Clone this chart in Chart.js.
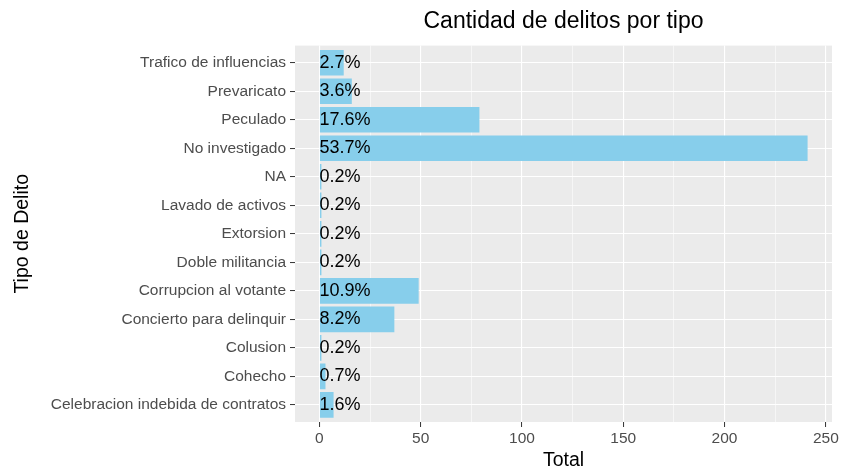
<!DOCTYPE html>
<html>
<head>
<meta charset="utf-8">
<title>Cantidad de delitos por tipo</title>
<script src="https://cdn.jsdelivr.net/npm/chart.js@4"></script>
<style>
  html, body { margin: 0; padding: 0; background: #fff; }
</style>
</head>
<body>
<canvas id="delitosChart" width="844" height="469"></canvas>
<script>
// categorias en el orden de arriba hacia abajo
const categorias = [
    'Trafico de influencias',
    'Prevaricato',
    'Peculado',
    'No investigado',
    'NA',
    'Lavado de activos',
    'Extorsion',
    'Doble militancia',
    'Corrupcion al votante',
    'Concierto para delinquir',
    'Colusion',
    'Cohecho',
    'Celebracion indebida de contratos'
];
const totales = [12, 16, 79, 241, 1, 1, 1, 1, 49, 37, 1, 3, 7];
const xTicks = [0, 50, 100, 150, 200, 250];
const xMinorTicks = [25, 75, 125, 175, 225];

const sumaTotal = totales.reduce((a, b) => a + b, 0);
const maxTotal = Math.max(...totales);
const n = categorias.length;

Chart.defaults.font.family = "'Liberation Sans', Arial, sans-serif";

// fondo gris del panel
const panelFondo = {
    id: 'panelFondo',
    beforeDraw(chart) {
        const { ctx, chartArea } = chart;
        ctx.save();
        ctx.fillStyle = '#EBEBEB';
        ctx.fillRect(chartArea.left, chartArea.top, chartArea.right - chartArea.left, chartArea.bottom - chartArea.top);
        ctx.restore();
    }
};

// porcentajes sobre las barras
const etiquetas = {
    id: 'etiquetas',
    afterDatasetsDraw(chart) {
        const { ctx } = chart;
        const meta = chart.getDatasetMeta(0);
        const x0 = chart.scales.x.getPixelForValue(0);
        ctx.save();
        ctx.font = "18px 'Liberation Sans', Arial, sans-serif";
        ctx.fillStyle = '#000';
        ctx.textAlign = 'left';
        ctx.textBaseline = 'middle';
        meta.data.forEach((bar, i) => {
            const pct = (totales[i] / sumaTotal * 100).toFixed(1) + '%';
            ctx.fillText(pct, x0, bar.y);
        });
        ctx.restore();
    }
};

const ctx = document.getElementById('delitosChart');

new Chart(ctx, {
    type: 'bar',
    data: {
        datasets: [{
            data: totales.map((v, i) => ({ x: v, y: n - i })),
            backgroundColor: '#87CEEB',
            borderWidth: 0,
            barPercentage: 0.9,
            categoryPercentage: 1.0
        }]
    },
    options: {
        indexAxis: 'y',
        responsive: false,
        animation: false,
        layout: { padding: { left: 0, right: 12, top: 0, bottom: 0 } },
        scales: {
            x: {
                type: 'linear',
                min: -maxTotal * 0.05,
                max: maxTotal * 1.05,
                afterBuildTicks: (axis) => {
                    axis.ticks = xTicks.concat(xMinorTicks).sort((a, b) => a - b).map(v => ({ value: v }));
                },
                afterFit: (scale) => { scale.height = 47; },
                border: { display: false },
                grid: {
                    color: '#FFFFFF',
                    lineWidth: (c) => (xTicks.includes(c.tick.value) ? 1.1 : 0.55),
                    tickColor: (c) => (xTicks.includes(c.tick.value) ? '#333333' : 'rgba(0,0,0,0)'),
                    tickLength: 5,
                    tickWidth: 1
                },
                ticks: {
                    color: '#4D4D4D',
                    font: { size: 15.5 },
                    padding: 2,
                    maxRotation: 0,
                    autoSkip: false,
                    callback: (v) => (xTicks.includes(v) ? String(v) : '')
                },
                title: {
                    display: true,
                    text: 'Total',
                    color: '#000',
                    font: { size: 19.5 },
                    padding: { top: 0, bottom: -3 }
                }
            },
            y: {
                type: 'linear',
                offset: false,
                min: 0.4,
                max: n + 0.6,
                afterBuildTicks: (axis) => {
                    axis.ticks = categorias.map((c, i) => ({ value: n - i }));
                },
                afterFit: (scale) => { scale.width = 295; },
                border: { display: false },
                grid: {
                    offset: false,
                    color: '#FFFFFF',
                    lineWidth: 1.1,
                    tickColor: '#333333',
                    tickLength: 5,
                    tickWidth: 1
                },
                ticks: {
                    color: '#4D4D4D',
                    font: { size: 15.5 },
                    padding: 4,
                    autoSkip: false,
                    callback: (v) => categorias[n - v]
                },
                title: {
                    display: true,
                    text: 'Tipo de Delito',
                    color: '#000',
                    font: { size: 19.5 },
                    padding: { top: 11, bottom: 0 }
                }
            }
        },
        plugins: {
            legend: { display: false },
            tooltip: { enabled: false },
            title: {
                display: true,
                fullSize: false,
                text: 'Cantidad de delitos por tipo',
                color: '#000',
                font: { size: 23, weight: 'normal' },
                padding: { top: 8, bottom: 10 }
            }
        }
    },
    plugins: [panelFondo, etiquetas]
});
</script>
</body>
</html>
